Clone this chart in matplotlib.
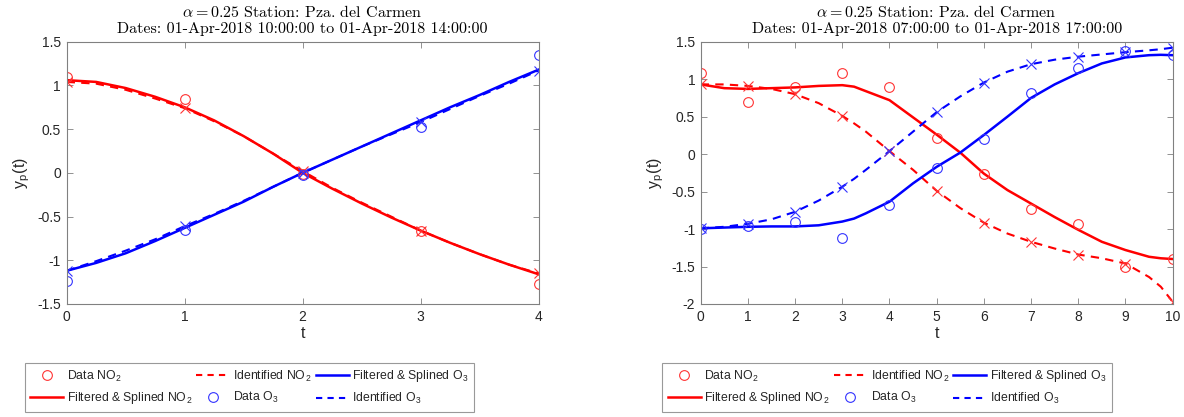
import numpy as np
import matplotlib
matplotlib.use("Agg")
import matplotlib.pyplot as plt
from matplotlib.lines import Line2D

plt.rcParams["font.family"] = ["Liberation Sans", "DejaVu Sans"]
plt.rcParams["mathtext.fontset"] = "cm"
plt.rcParams["axes.unicode_minus"] = False

# ---- left panel: 10:00 -> 14:00 ----
t_l = [0, 1, 2, 3, 4]
no2_data_l = [1.10, 0.85, -0.01, -0.66, -1.27]
no2_ident_l = [1.04, 0.74, 0.02, -0.66, -1.15]
o3_data_l = [-1.24, -0.65, -0.02, 0.53, 1.35]
o3_ident_l = [-1.12, -0.61, 0.00, 0.58, 1.17]

tf_l = [0, 0.25, 0.5, 0.75, 1, 1.25, 1.5, 1.75, 2, 2.25, 2.5, 2.75, 3, 3.25, 3.5, 3.75, 4]
no2_filt_l = [1.06, 1.04, 0.97, 0.87, 0.75, 0.60, 0.42, 0.22, 0.00, -0.18, -0.35, -0.51,
              -0.66, -0.80, -0.93, -1.05, -1.16]
no2_identc_l = [1.04, 1.02, 0.95, 0.85, 0.74, 0.59, 0.42, 0.22, 0.02, -0.17, -0.34, -0.50,
                -0.66, -0.80, -0.93, -1.05, -1.15]
o3_filt_l = [-1.12, -1.03, -0.92, -0.78, -0.63, -0.48, -0.33, -0.16, 0.00, 0.15, 0.30, 0.45,
             0.60, 0.75, 0.89, 1.04, 1.18]
o3_identc_l = [-1.12, -1.01, -0.89, -0.76, -0.61, -0.47, -0.32, -0.16, 0.00, 0.15, 0.30, 0.44,
               0.58, 0.73, 0.88, 1.02, 1.17]

# ---- right panel: 07:00 -> 17:00 ----
t_r = [0, 1, 2, 3, 4, 5, 6, 7, 8, 9, 10]
no2_data_r = [1.08, 0.69, 0.89, 1.08, 0.89, 0.22, -0.26, -0.73, -0.93, -1.50, -1.40]
no2_ident_r = [0.93, 0.91, 0.80, 0.51, 0.04, -0.49, -0.915, -1.17, -1.34, -1.46, -1.97]
o3_data_r = [-1.00, -0.955, -0.90, -1.12, -0.68, -0.18, 0.20, 0.81, 1.15, 1.38, 1.32]
o3_ident_r = [-0.99, -0.93, -0.77, -0.435, 0.04, 0.56, 0.955, 1.20, 1.30, 1.36, 1.42]

tf_r = [0, 0.5, 1, 1.5, 2, 2.5, 3, 3.25, 3.5, 4, 4.5, 5, 5.5, 6, 6.5, 7, 7.5, 8, 8.5, 9, 9.5, 9.75, 10]
no2_filt_r = [0.93, 0.88, 0.87, 0.88, 0.89, 0.91, 0.92, 0.90, 0.84, 0.72, 0.49, 0.26, 0.02, -0.26,
              -0.48, -0.66, -0.84, -1.01, -1.17, -1.28, -1.37, -1.39, -1.40]
no2_identc_r = [0.93, 0.93, 0.91, 0.87, 0.80, 0.68, 0.51, 0.41, 0.30, 0.04, -0.21, -0.49, -0.72,
                -0.915, -1.06, -1.17, -1.26, -1.34, -1.39, -1.46, -1.64, -1.77, -1.97]
o3_filt_r = [-0.99, -0.98, -0.97, -0.965, -0.965, -0.95, -0.90, -0.86, -0.79, -0.635, -0.39, -0.17,
             0.02, 0.255, 0.50, 0.75, 0.93, 1.08, 1.21, 1.29, 1.32, 1.325, 1.32]
o3_identc_r = [-0.99, -0.97, -0.93, -0.87, -0.77, -0.62, -0.435, -0.33, -0.21, 0.04, 0.30, 0.56, 0.77,
               0.955, 1.10, 1.20, 1.26, 1.30, 1.33, 1.36, 1.385, 1.40, 1.42]

title_line1 = r"$\alpha = 0.25$ Station: Pza. del Carmen"
date_ranges = ["01-Apr-2018 10:00:00 to 01-Apr-2018 14:00:00",
               "01-Apr-2018 07:00:00 to 01-Apr-2018 17:00:00"]

panels = [
    dict(t=t_l, tf=tf_l, nd=no2_data_l, ni=no2_ident_l, od=o3_data_l, oi=o3_ident_l,
         nf=no2_filt_l, nic=no2_identc_l, of=o3_filt_l, oic=o3_identc_l,
         ylim=(-1.5, 1.5), xlim=(0, 4), pos=[0.0563, 0.271, 0.3986, 0.629],
         leg=(0.2107, 0.071)),
    dict(t=t_r, tf=tf_r, nd=no2_data_r, ni=no2_ident_r, od=o3_data_r, oi=o3_ident_r,
         nf=no2_filt_r, nic=no2_identc_r, of=o3_filt_r, oic=o3_identc_r,
         ylim=(-2, 1.5), xlim=(0, 10), pos=[0.5918, 0.271, 0.3986, 0.629],
         leg=(0.7492, 0.071)),
]

fig = plt.figure(figsize=(11.84, 4.17), dpi=100)
spine_c = "#808080"
txt_c = "#262626"
for p, dates in zip(panels, date_ranges):
    ax = fig.add_axes(p["pos"])
    mk = dict(ls="none", ms=7, mew=0.8, mfc="none")
    ax.plot(p["tf"], p["nf"], "-", color="red", lw=1.8)
    ax.plot(p["tf"], p["nic"], "--", color="red", lw=1.5, dashes=(4, 3))
    ax.plot(p["tf"], p["of"], "-", color="blue", lw=1.8)
    ax.plot(p["tf"], p["oic"], "--", color="blue", lw=1.5, dashes=(4, 3))
    ax.plot(p["t"], p["nd"], marker="o", mec="#ff3333", **mk)
    ax.plot(p["t"], p["ni"], marker="x", mec="#ff3333", **mk)
    ax.plot(p["t"], p["od"], marker="o", mec="#3333ff", **mk)
    ax.plot(p["t"], p["oi"], marker="x", mec="#3333ff", **mk)

    ax.set_xlim(*p["xlim"]); ax.set_ylim(*p["ylim"])
    ax.set_xticks(range(p["xlim"][0], p["xlim"][1] + 1))
    ax.set_yticks(np.arange(p["ylim"][0], p["ylim"][1] + 0.01, 0.5))
    ax.yaxis.set_major_formatter(matplotlib.ticker.FormatStrFormatter("%g"))
    ax.tick_params(direction="in", top=True, right=True, length=4, width=0.6,
                   colors=spine_c, labelcolor=txt_c, labelsize=10, pad=4)
    for s in ax.spines.values():
        s.set_color(spine_c); s.set_linewidth(0.8)
    ax.set_xlabel("t", fontsize=11.5, color=txt_c, labelpad=2)
    ax.set_ylabel(r"y$_{\mathregular{p}}$(t)", fontsize=11.5, color=txt_c, labelpad=4)
    ax.set_title(title_line1 + "\nDates: " + dates, fontsize=11.5, color="black",
                 pad=6, linespacing=1.25, fontfamily="cmr10")

    h = [Line2D([], [], ls="none", marker="o", ms=7, mew=0.8, mfc="none", mec="#ff3333"),
         Line2D([], [], color="red", lw=1.8),
         Line2D([], [], color="red", lw=1.5, ls="--", dashes=(3, 2.5)),
         Line2D([], [], ls="none", marker="o", ms=7, mew=0.8, mfc="none", mec="#3333ff"),
         Line2D([], [], color="blue", lw=1.8),
         Line2D([], [], color="blue", lw=1.5, ls="--", dashes=(3, 2.5))]
    labs = [r"Data NO$_{\mathregular{2}}$", r"Filtered & Splined NO$_{\mathregular{2}}$",
            r"Identified NO$_{\mathregular{2}}$", r"Data O$_{\mathregular{3}}$",
            r"Filtered & Splined O$_{\mathregular{3}}$", r"Identified O$_{\mathregular{3}}$"]
    leg = fig.legend(h, labs, ncol=3, bbox_to_anchor=p["leg"], loc="center",
                     fontsize=8.8, frameon=True, fancybox=False,
                     edgecolor=spine_c, handlelength=2.7, handletextpad=0.3,
                     columnspacing=0.35, borderaxespad=0, labelspacing=0.55,
                     borderpad=0.45, labelcolor=txt_c)
    leg.get_frame().set_linewidth(0.8)

fig.savefig("out.png", dpi=100)
